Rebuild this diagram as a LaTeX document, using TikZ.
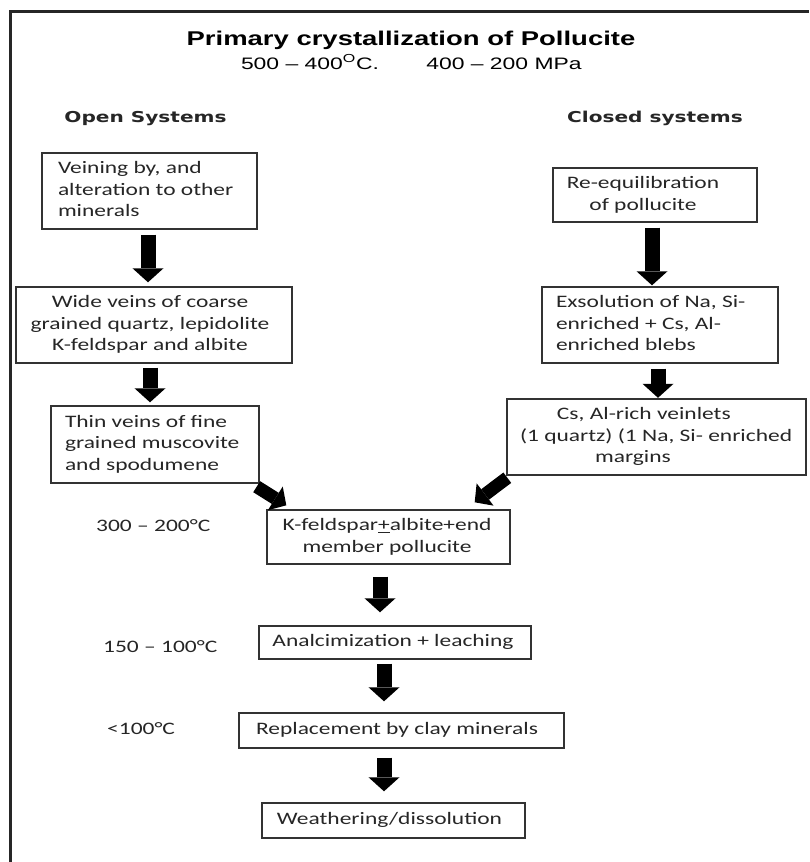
\documentclass[tikz,border=0pt]{standalone}
\usepackage{fontspec}
\setmainfont{Carlito}
\newfontfamily\arialf{Liberation Sans}
\newfontfamily\verdf{DejaVu Sans}
\usepackage{graphicx}
\usetikzlibrary{arrows.meta}
\newcommand\sx[1]{\scalebox{1.34}[1]{#1}}
\newcommand\sa[1]{\scalebox{1.38}[1]{#1}}
\newcommand\Lt[3]{\makebox[#1][l]{\hspace*{#2}\sx{\begin{tabular}{@{}l@{}}#3\end{tabular}}}}
\newcommand\Ct[3]{\makebox[#1][l]{\makebox[#2][c]{\sx{\begin{tabular}{@{}c@{}}#3\end{tabular}}}}}
\tikzset{
  box/.style={draw=black!80, line width=1.4pt, inner sep=0pt, text=black!85,
    font=\fontsize{17.5}{21.5}\selectfont},
  bodytxt/.style={text=black!85, font=\fontsize{17.5}{21.5}\selectfont, inner sep=0pt},
  frameline/.style={draw=black!85, line width=2.5pt},
  varrow/.style={draw=black, line width=15pt, -{Triangle[length=14pt,width=31pt,line width=0pt]}},
  darrow/.style={draw=black, line width=13pt, -{Triangle[length=13pt,width=28pt,line width=0pt]}}
}
\begin{document}
\begin{tikzpicture}[x=1pt,y=-1pt]
\useasboundingbox (0,0) rectangle (809,862);
\fill[white] (0,0) rectangle (809,862);
\draw[frameline] (10.5,862) -- (10.5,11.5) -- (809,11.5);

% titles
\node[anchor=base, inner sep=0pt, font=\arialf\bfseries\fontsize{19.9}{24}\selectfont] (title) at (411,45) {\sa{Primary crystallization of Pollucite}};
\node[anchor=base, inner sep=0pt, font=\arialf\fontsize{16.6}{20}\selectfont] (sub1) at (310,69) {\sa{500 – 400\textsuperscript{O}C.}};
\node[anchor=base, inner sep=0pt, font=\arialf\fontsize{16.6}{20}\selectfont] (sub2) at (504,69) {\sa{400 – 200 MPa}};
\node[anchor=base, inner sep=0pt, text=black!85, font=\verdf\bfseries\fontsize{15}{18}\selectfont] (open) at (145.5,122) {\sx{Open Systems}};
\node[anchor=base, inner sep=0pt, text=black!85, font=\verdf\bfseries\fontsize{15}{18}\selectfont] (closed) at (655,122) {\sx{Closed systems}};

% open system column
\node[box, minimum width=215pt, minimum height=76pt] (b1) at (149.5,191)
  {\Lt{215pt}{16pt}{Veining by, and\\alteration to other\\minerals}};
\node[box, minimum width=276pt, minimum height=76pt] (b2) at (154,325)
  {\Ct{276pt}{268pt}{Wide veins of coarse\\grained quartz, lepidolite\\K-feldspar and albite}};
\node[box, minimum width=208pt, minimum height=77pt] (b3) at (155,444.5)
  {\Lt{208pt}{14pt}{Thin veins of fine\\grained muscovite\\and spodumene}};

% closed system column
\node[box, minimum width=204pt, minimum height=54pt] (b4) at (655,195)
  {\Ct{204pt}{180pt}{Re-equilibration\\of pollucite}};
\node[box, minimum width=236pt, minimum height=76pt] (b5) at (660,325)
  {\Lt{236pt}{14pt}{Exsolution of Na, Si-\\enriched + Cs, Al-\\enriched blebs}};
\node[box, minimum width=299pt, minimum height=76pt] (b6) at (656.5,437)
  {\Lt{299pt}{13pt}{\hspace*{27.6pt}Cs, Al-rich veinlets\\(1 quartz) (1 Na, Si- enriched\\\hspace*{56pt}margins}};

% common column
\node[box, minimum width=243pt, minimum height=54pt] (b7) at (388.5,537)
  {\Ct{243pt}{240pt}{K-feldspar\underline{+}albite+end\\member pollucite}};
\node[box, minimum width=272pt, minimum height=33pt] (b8) at (395,642.5)
  {\Ct{272pt}{268pt}{Analcimization + leaching}};
\node[box, minimum width=325pt, minimum height=35pt] (b9) at (401.5,730.5)
  {\Ct{325pt}{316pt}{Replacement by clay minerals}};
\node[box, minimum width=263pt, minimum height=35pt] (b10) at (393.5,820.5)
  {\Ct{263pt}{255pt}{Weathering/dissolution}};

% temperature labels
\node[bodytxt, anchor=base west] (t1) at (96,531) {\sx{300 – 200°C}};
\node[bodytxt, anchor=base west] (t2) at (103,652) {\sx{150 – 100°C}};
\node[bodytxt, anchor=base west] (t3) at (107,734) {\sx{<100°C}};

% arrows
\draw[varrow, shorten <=5pt, shorten >=4pt] ([xshift=-1.5pt]b1.south) -- ([xshift=-1.5pt]b1.south |- b2.north);
\draw[varrow, shorten <=4pt, shorten >=3pt] ([xshift=-4pt]b2.south) -- ([xshift=-4pt]b2.south |- b3.north);
\draw[varrow, shorten <=5pt, shorten >=1pt] ([xshift=-3pt]b4.south) -- ([xshift=-3pt]b4.south |- b5.north);
\draw[varrow, shorten <=5pt, shorten >=0.5pt] ([xshift=-2pt]b5.south) -- ([xshift=-2pt]b5.south |- b6.north);
\draw[varrow, shorten <=12pt, shorten >=13pt] ([xshift=-8.5pt]b7.south) -- ([xshift=-8.5pt]b7.south |- b8.north);
\draw[varrow, shorten <=4pt, shorten >=11pt] ([xshift=-11pt]b8.south) -- ([xshift=-11pt]b8.south |- b9.north);
\draw[varrow, shorten <=9pt, shorten >=11pt] ([xshift=-17.5pt]b9.south) -- ([xshift=-17.5pt]b9.south |- b10.north);
\draw[darrow] ([shift={(-3,3)}]b3.south east) -- ([shift={(20,-4)}]b7.north west);
\draw[darrow] ([shift={(1,2)}]b6.south west) -- ([shift={(-36,-7)}]b7.north east);
\end{tikzpicture}
\end{document}
